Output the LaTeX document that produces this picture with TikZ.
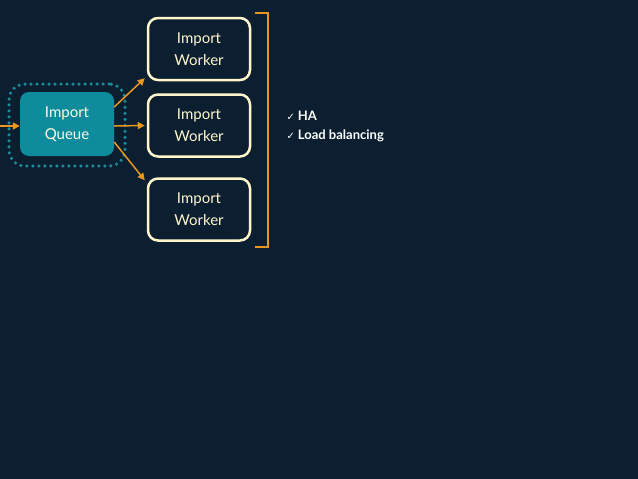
\documentclass[tikz,border=0pt]{standalone}
\usepackage{fontspec}
\setmainfont{Lato}
\newfontfamily\symfont{DejaVu Sans}
\usetikzlibrary{arrows.meta}
\definecolor{bgdark}{HTML}{0C1F30}
\definecolor{queueteal}{HTML}{0F8C9C}
\definecolor{dotteal}{HTML}{1B8A9B}
\definecolor{cream}{HTML}{FFF6CC}
\definecolor{arroworange}{HTML}{E8961E}
\begin{document}
\begin{tikzpicture}[x=1pt,y=-1pt]
    % background
    \fill[bgdark] (0,0) rectangle (638,479);
    \useasboundingbox (0,0) rectangle (638,479);

    % Queue with dotted halo
    \node[draw=dotteal,line width=3.5pt,dash pattern=on 0pt off 6pt,line cap=round,rounded corners=16pt,minimum width=116pt,minimum height=82pt] (halo) at (67,125) {};
    \node[fill=queueteal,rounded corners=9pt,minimum width=94pt,minimum height=64pt,align=center,text=cream!60!white,font=\fontsize{15}{22}\selectfont] (queue) at (67,124) {Import\\Queue};

    % Workers
    \node[draw=cream,line width=2.5pt,fill=bgdark,rounded corners=10pt,minimum width=102pt,minimum height=62pt,align=center,text=cream,font=\fontsize{15}{22}\selectfont] (worker1) at (199,49) {Import\\Worker};
    \node[draw=cream,line width=2.5pt,fill=bgdark,rounded corners=10pt,minimum width=102pt,minimum height=62pt,align=center,text=cream,font=\fontsize{15}{22}\selectfont] (worker2) at (199,125.5) {Import\\Worker};
    \node[draw=cream,line width=2.5pt,fill=bgdark,rounded corners=10pt,minimum width=102pt,minimum height=62pt,align=center,text=cream,font=\fontsize{15}{22}\selectfont] (worker3) at (199,209.5) {Import\\Worker};

    % Arrows
    \coordinate (in) at (0,126);
    \draw[-{Triangle[length=7pt,width=7pt]},arroworange,line width=1.5pt] (in) -- (queue.west |- in);
    \draw[-{Triangle[length=7pt,width=7pt]},arroworange,line width=1.5pt] ([yshift=17pt]queue.east) -- ([xshift=-2pt,yshift=3pt]worker1.south west);
    \draw[-{Triangle[length=7pt,width=7pt]},arroworange,line width=1.5pt] ([yshift=-2pt]queue.east) -- ([xshift=-2pt]worker2.west);
    \draw[-{Triangle[length=7pt,width=7pt]},arroworange,line width=1.5pt] ([yshift=-18pt]queue.east) -- ([xshift=-2pt,yshift=-3pt]worker3.north west);

    % Bracket
    \coordinate (btop) at (255,13);
    \coordinate (bbot) at (255,247);
    \draw[arroworange,line width=1.5pt] (btop) -| (268,247) -- (bbot);

    % Features
    \node[anchor=west,text=white,font=\fontsize{13}{19}\selectfont\bfseries] (ha) at (283,116) {{\symfont\fontsize{10}{10}\selectfont ✓}\hspace{3pt}HA};
    \node[anchor=west,text=white,font=\fontsize{13}{19}\selectfont\bfseries] (lb) at (283,136) {{\symfont\fontsize{10}{10}\selectfont ✓}\hspace{3pt}Load balancing};
\end{tikzpicture}
\end{document}
